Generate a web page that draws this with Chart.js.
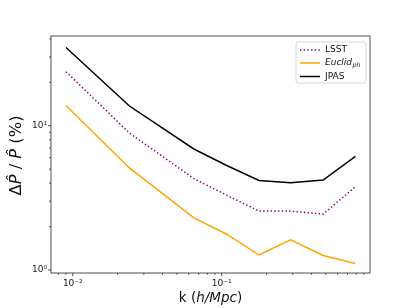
<!DOCTYPE html>
<html>
<head>
<meta charset="utf-8">
<script src="https://cdn.jsdelivr.net/npm/chart.js@4.4.0/dist/chart.umd.min.js"></script>
<style>
  body { margin: 0; background: #fff; }
  canvas { display: block; }
</style>
</head>
<body>
<canvas id="grafico" width="411" height="308"></canvas>
<script>
const k = [0.009, 0.024, 0.065, 0.108, 0.178, 0.29, 0.48, 0.79];
const lsst = [23.7, 8.9, 4.3, 3.3, 2.56, 2.56, 2.44, 3.78];
const euclid = [13.8, 5.1, 2.3, 1.77, 1.27, 1.62, 1.26, 1.11];
const jpas = [34.9, 13.7, 6.9, 5.3, 4.18, 4.03, 4.2, 6.14];

const xMajor = [0.01, 0.1];
const xMajorLabels = ['10⁻²', '10⁻¹'];
const xMinor = [0.008, 0.009, 0.02, 0.03, 0.04, 0.05, 0.06, 0.07, 0.08, 0.09,
  0.2, 0.3, 0.4, 0.5, 0.6, 0.7, 0.8, 0.9];
const yMajor = [1, 10];
const yMajorLabels = ['10⁰', '10¹'];
const yMinor = [2, 3, 4, 5, 6, 7, 8, 9, 20, 30, 40];

const fonte = 'DejaVu Sans';

function pontos(valores) {
  return k.map((v, i) => ({ x: v, y: valores[i] }));
}

function montarTicks(maiores, menores) {
  return function (scale) {
    scale.ticks = maiores.concat(menores).sort((a, b) => a - b).map(v => ({ value: v }));
  };
}

function rotulo(maiores, rotulos) {
  return function (value) {
    const i = maiores.indexOf(value);
    return i >= 0 ? rotulos[i] : '';
  };
}

// moldura, marcas dos eixos, titulos e legenda
const extras = {
  id: 'extras',
  afterDraw(chart) {
    const { ctx, chartArea: a, scales: { x, y } } = chart;
    ctx.save();
    ctx.strokeStyle = '#222';
    ctx.lineWidth = 0.8;
    ctx.strokeRect(a.left, a.top, a.right - a.left, a.bottom - a.top);

    ctx.beginPath();
    xMajor.forEach(v => { const p = x.getPixelForValue(v); ctx.moveTo(p, a.bottom); ctx.lineTo(p, a.bottom + 3.1); });
    xMinor.forEach(v => { const p = x.getPixelForValue(v); ctx.moveTo(p, a.bottom); ctx.lineTo(p, a.bottom + 1.8); });
    yMajor.forEach(v => { const p = y.getPixelForValue(v); ctx.moveTo(a.left, p); ctx.lineTo(a.left - 3.1, p); });
    yMinor.forEach(v => { const p = y.getPixelForValue(v); ctx.moveTo(a.left, p); ctx.lineTo(a.left - 1.8, p); });
    ctx.stroke();

    // titulo eixo x
    ctx.fillStyle = '#111';
    ctx.textBaseline = 'middle';
    const partesX = [['k (', 'normal'], ['h/Mpc', 'italic'], [')', 'normal']];
    escreverPartes(ctx, partesX, (a.left + a.right) / 2, 298, 13.5);

    // titulo eixo y
    ctx.save();
    ctx.translate(17, (a.top + a.bottom) / 2 + 1);
    ctx.rotate(-Math.PI / 2);
    const partesY = [['Δ', 'normal'], ['P\u0302', 'italic'], [' / ', 'normal'], ['P\u0302', 'italic'], [' (%)', 'normal']];
    escreverPartes(ctx, partesY, 0, 0, 16.3);
    ctx.restore();

    // legenda
    const bx = a.right - 74, by = a.top + 6, bw = 70, bh = 41;
    ctx.beginPath();
    ctx.roundRect(bx, by, bw, bh, 2.5);
    ctx.fillStyle = 'rgba(255,255,255,0.8)';
    ctx.fill();
    ctx.strokeStyle = '#cccccc';
    ctx.lineWidth = 0.8;
    ctx.stroke();

    const itens = [
      { cor: 'purple', traco: [1.4, 2.3], y: by + 8 },
      { cor: 'orange', traco: [], y: by + 21 },
      { cor: 'black', traco: [], y: by + 34.5 }
    ];
    itens.forEach(it => {
      ctx.beginPath();
      ctx.setLineDash(it.traco);
      ctx.strokeStyle = it.cor;
      ctx.lineWidth = 1.5;
      ctx.moveTo(bx + 4, it.y);
      ctx.lineTo(bx + 24, it.y);
      ctx.stroke();
    });
    ctx.setLineDash([]);
    ctx.fillStyle = '#111';
    ctx.textAlign = 'left';
    ctx.textBaseline = 'middle';
    ctx.font = '9px "' + fonte + '"';
    ctx.fillText('LSST', bx + 29, itens[0].y);
    ctx.fillText('JPAS', bx + 29, itens[2].y);
    ctx.font = 'italic 9px "' + fonte + '"';
    ctx.fillText('Euclid', bx + 29, itens[1].y);
    const w = ctx.measureText('Euclid').width;
    ctx.font = 'italic 6.3px "' + fonte + '"';
    ctx.fillText('ph', bx + 29 + w + 0.5, itens[1].y + 2.5);
    ctx.restore();
  }
};

function escreverPartes(ctx, partes, cx, cy, tam) {
  let total = 0;
  partes.forEach(p => {
    ctx.font = p[1] + ' ' + tam + 'px "' + fonte + '"';
    total += ctx.measureText(p[0]).width;
  });
  let px = cx - total / 2;
  ctx.textAlign = 'left';
  partes.forEach(p => {
    ctx.font = p[1] + ' ' + tam + 'px "' + fonte + '"';
    ctx.fillText(p[0], px, cy);
    px += ctx.measureText(p[0]).width;
  });
}

const ctx = document.getElementById('grafico').getContext('2d');
new Chart(ctx, {
  type: 'line',
  data: {
    datasets: [
      { label: 'LSST', data: pontos(lsst), borderColor: 'purple', borderDash: [1.4, 2.3], borderCapStyle: 'butt' },
      { label: 'Euclid_ph', data: pontos(euclid), borderColor: 'orange' },
      { label: 'JPAS', data: pontos(jpas), borderColor: 'black' }
    ]
  },
  options: {
    responsive: false,
    animation: false,
    layout: { padding: { left: 0, top: 36, right: 41, bottom: 0 } },
    elements: {
      point: { radius: 0 },
      line: { borderWidth: 1.5, tension: 0, fill: false }
    },
    plugins: {
      legend: { display: false },
      tooltip: { enabled: false }
    },
    scales: {
      x: {
        type: 'logarithmic',
        min: 0.00714,
        max: 0.99,
        afterBuildTicks: montarTicks(xMajor, xMinor),
        afterFit: s => { s.height = 35; },
        grid: { display: false, drawTicks: false },
        border: { display: false },
        ticks: {
          autoSkip: false,
          maxRotation: 0,
          padding: 5,
          color: '#222',
          font: { family: fonte, size: 9 },
          callback: rotulo(xMajor, xMajorLabels)
        }
      },
      y: {
        type: 'logarithmic',
        min: 0.953,
        max: 41.9,
        afterBuildTicks: montarTicks(yMajor, yMinor),
        afterFit: s => { s.width = 51; },
        grid: { display: false, drawTicks: false },
        border: { display: false },
        ticks: {
          autoSkip: false,
          padding: 4,
          color: '#222',
          font: { family: fonte, size: 9 },
          callback: rotulo(yMajor, yMajorLabels)
        }
      }
    }
  },
  plugins: [extras]
});
</script>
</body>
</html>
